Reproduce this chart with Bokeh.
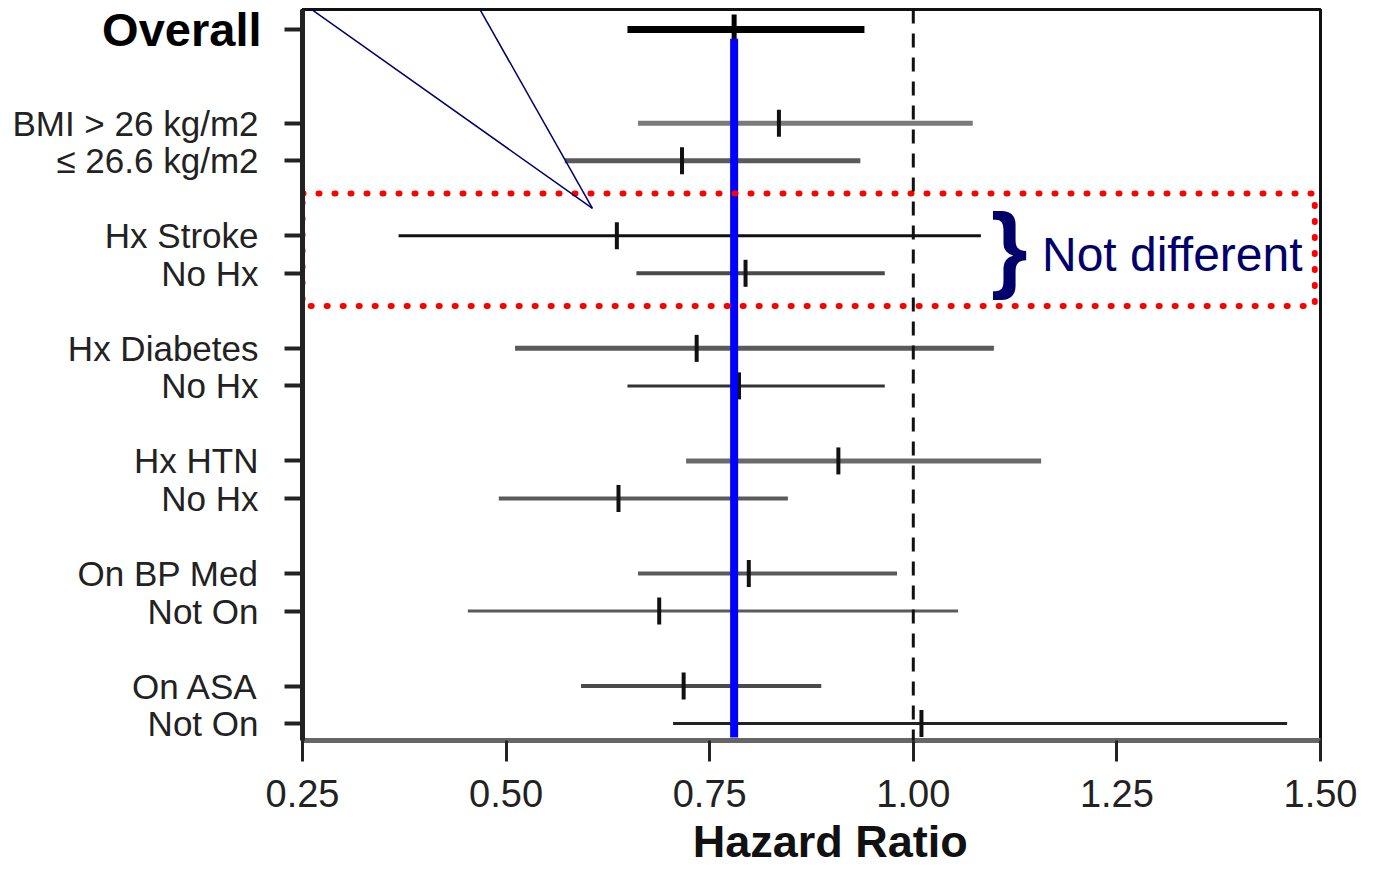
import math
from bokeh.plotting import figure
from bokeh.layouts import row
from bokeh.models import Range1d, FixedTicker, Span
from bokeh.core.properties import value
from bokeh.embed import file_html
from bokeh.resources import INLINE

# ---------------- data ----------------
labels = ["Overall", "BMI > 26 kg/m2", "\u2264 26.6 kg/m2", "Hx Stroke", "No Hx",
          "Hx Diabetes", "No Hx", "Hx HTN", "No Hx", "On BP Med", "Not On",
          "On ASA", "Not On"]
rows = [0, 2.5, 3.5, 5.5, 6.5, 8.5, 9.5, 11.5, 12.5, 14.5, 15.5, 17.5, 18.5]
hr = [0.780, 0.835, 0.716, 0.636, 0.794, 0.734, 0.786, 0.908, 0.638, 0.798, 0.688, 0.718, 1.010]
lo = [0.649, 0.662, 0.572, 0.368, 0.660, 0.511, 0.649, 0.721, 0.491, 0.662, 0.453, 0.592, 0.705]
hi = [0.940, 1.073, 0.935, 1.083, 0.965, 1.099, 0.965, 1.157, 0.846, 0.980, 1.055, 0.887, 1.459]
x_ticks = [0.25, 0.50, 0.75, 1.00, 1.25, 1.50]
x_tick_labels = ["0.25", "0.50", "0.75", "1.00", "1.25", "1.50"]
null_hr = 1.0

# annotation (highlight box around the Stroke subgroup)
box_rows = (4.37, 7.37)
box_x = (0.25, 1.493)
note_text = "Not different"

FONT = "Liberation Sans"
NAVY = "#00006b"

TOP = 9
FRAME_H = 731
LABEL_W = 262
Y_TOP, Y_BOT = -0.53, 18.95

y_range = Range1d(Y_BOT, Y_TOP)

# ---------------- label panel (left) ----------------
# same vertical scale as the main frame, but extended downward so nothing is clipped
px_per_unit = FRAME_H / (Y_BOT - Y_TOP)
LAB_FRAME = FRAME_H + 75
lab_range = Range1d(Y_BOT + (LAB_FRAME - FRAME_H) / px_per_unit, Y_TOP)

lab = figure(width=LABEL_W, frame_height=LAB_FRAME, output_backend="svg",
             toolbar_location=None, x_range=Range1d(0, LABEL_W), y_range=lab_range,
             min_border_left=0, min_border_right=0, min_border_top=TOP,
             min_border_bottom=0)
lab.axis.visible = False
lab.grid.visible = False
lab.outline_line_color = None
lab.background_fill_color = "white"
lab.border_fill_color = "white"
lab.text(x=[LABEL_W - 4] * (len(labels) - 1), y=rows[1:], text=labels[1:],
         text_font=value(FONT), text_font_size="35px", text_color="#222222",
         text_align="right", text_baseline="middle")
lab.text(x=[LABEL_W - 1], y=[rows[0]], text=[labels[0]], text_font=value(FONT),
         text_font_size="47px", text_font_style="bold", text_color="black",
         text_align="right", text_baseline="middle")

# ---------------- main plot ----------------
p = figure(width=1358 - LABEL_W, frame_height=FRAME_H, output_backend="svg",
           toolbar_location=None, x_range=Range1d(0.25, 1.50), y_range=y_range,
           min_border_left=302 - LABEL_W, min_border_right=38, min_border_top=TOP,
           min_border_bottom=0)
p.grid.visible = False
p.background_fill_color = "white"
p.border_fill_color = "white"
p.outline_line_color = "#111111"
p.outline_line_width = 3

# null line
p.add_layout(Span(location=null_hr, dimension="height", line_color="#111111",
                  line_width=3, line_dash="14 10"))

# error bars
colors = ["#7a7a7a", "#5a5a5a", "#111111", "#4a4a4a", "#5a5a5a", "#333333",
          "#6a6a6a", "#5a5a5a", "#5a5a5a", "#5a5a5a", "#4a4a4a", "#222222"]
widths = [5, 5, 3, 4, 5, 3, 5, 4, 4, 3, 4, 3]
p.segment(x0=lo[1:], x1=hi[1:], y0=rows[1:], y1=rows[1:], line_color=colors,
          line_width=widths)
p.scatter(x=hr[1:], y=rows[1:], marker="dash", angle=math.pi / 2, size=27,
          line_color="#111111", line_width=4)

# overall
p.segment(x0=[lo[0]], x1=[hi[0]], y0=[rows[0]], y1=[rows[0]], line_color="black",
          line_width=7)
p.scatter(x=[hr[0]], y=[rows[0]], marker="dash", angle=math.pi / 2, size=30,
          line_color="black", line_width=5)

# blue reference line at overall HR
p.segment(x0=[hr[0]], x1=[hr[0]], y0=[rows[0] + 0.25], y1=[rows[-1] + 0.37],
          line_color="#0000ff", line_width=8)

# red dotted box
p.quad(left=[box_x[0]], right=[box_x[1]], bottom=[box_rows[1]], top=[box_rows[0]],
       fill_alpha=0, line_color="#ff0000", line_width=6, line_dash="1 15",
       line_cap="round")

# callout lines
p.segment(x0=[0.244, 0.461], y0=[-0.795, -0.795], x1=[0.606, 0.606], y1=[4.77, 4.77],
          line_color=NAVY, line_width=1.5)

# brace + note
p.text(x=[1.118], y=[5.8], text=["}"], text_font=value(FONT), text_font_size="94px",
       text_font_style="bold", text_color=NAVY, text_align="center",
       text_baseline="middle")
p.text(x=[1.158], y=[6.0], text=[note_text], text_font=value(FONT),
       text_font_size="48px", text_color=NAVY, text_align="left",
       text_baseline="middle")

# y axis (ticks only; labels live in the left panel)
ya = p.yaxis[0]
ya.ticker = FixedTicker(ticks=rows)
ya.major_label_overrides = {r: "" for r in rows}
ya.major_label_text_font_size = "0px"
ya.major_label_standoff = 0
ya.major_tick_out = 18
ya.major_tick_in = 0
ya.minor_tick_out = 0
ya.minor_tick_in = 0
ya.major_tick_line_width = 4
ya.major_tick_line_color = "#222222"
ya.axis_line_width = 5
ya.axis_line_color = "#222222"

# x axis
xa = p.xaxis[0]
xa.ticker = FixedTicker(ticks=x_ticks)
xa.major_label_overrides = {t: l for t, l in zip(x_ticks, x_tick_labels)}
xa.major_label_text_font = FONT
xa.major_label_text_font_size = "38px"
xa.major_label_text_color = "#222222"
xa.major_label_standoff = 18
xa.major_tick_out = 21
xa.major_tick_in = 0
xa.minor_tick_out = 0
xa.minor_tick_in = 0
xa.major_tick_line_width = 3
xa.major_tick_line_color = "#222222"
xa.axis_line_width = 5
xa.axis_line_color = "#666666"
xa.axis_label = "\u00a0\u00a0\u00a0Hazard Ratio"
xa.axis_label_text_font = FONT
xa.axis_label_text_font_size = "45px"
xa.axis_label_text_font_style = "bold"
xa.axis_label_text_color = "#111111"
xa.axis_label_standoff = 6

layout = row(lab, p, spacing=0)
open("out.html", "w").write(file_html(layout, INLINE))
